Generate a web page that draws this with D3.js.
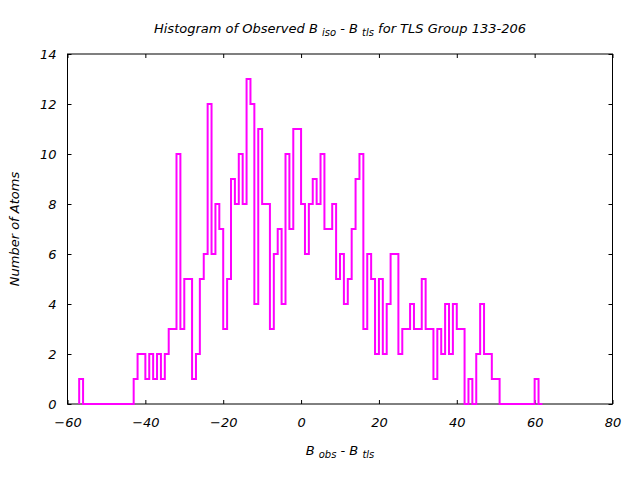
<!DOCTYPE html>
<html>
<head>
<meta charset="utf-8">
<script src="https://cdn.jsdelivr.net/npm/d3@7"></script>
<style>
  body { margin: 0; background: white; }
  text { font-family: "DejaVu Sans", sans-serif; font-style: italic; }
</style>
</head>
<body>
<script>
// bins are 1 unit wide, first bin starts at -57
let firstEdge = -57;
let binWidth = 1;
let counts = [
  1, 0, 0, 0, 0, 0, 0, 0, 0, 0, 0, 0, 0, 0,      // -57 .. -44
  1, 2, 2, 1, 2, 1, 2, 1, 2, 3, 3, 10, 3, 5, 5,  // -43 .. -29
  1, 2, 5, 6, 12, 6, 8, 7, 3, 5, 9, 8, 10, 8,    // -28 .. -15
  13, 12, 4, 11, 8, 8, 3, 6, 7, 4, 10, 7, 11, 11,// -14 .. -1
  8, 6, 8, 9, 8, 10, 7, 7, 8, 5, 6, 4, 5, 7,     // 0 .. 13
  9, 10, 3, 6, 5, 2, 5, 2, 4, 6, 6, 2, 3, 3,     // 14 .. 27
  4, 3, 3, 5, 3, 3, 1, 3, 2, 4, 2, 4, 3, 3,      // 28 .. 41
  0, 1, 0, 2, 4, 2, 2, 1, 1,                     // 42 .. 50
  0, 0, 0, 0, 0, 0, 0, 0, 0, 1, 0                // 51 .. 61
];
let xTicks = [-60, -40, -20, 0, 20, 40, 60, 80];
let yTicks = [0, 2, 4, 6, 8, 10, 12, 14];

let width = 640, height = 480;
let margin = { top: 54, bottom: 76, left: 67.5, right: 27.5 };

let svg = d3.select('body')
  .append('svg')
  .attr('width', width)
  .attr('height', height)
  .style('background', 'white');

let xScale = d3.scaleLinear()
  .domain([-60, 80])
  .range([margin.left, width - margin.right]);

let yScale = d3.scaleLinear()
  .domain([0, 14])
  .range([height - margin.bottom, margin.top]);

// axes, ticks pointing inward, mirrored on top/right
svg.append('g')
  .attr('transform', `translate(0,${height - margin.bottom})`)
  .call(d3.axisBottom(xScale).tickValues(xTicks).tickSize(-4).tickSizeOuter(0).tickPadding(14))
  .call(g => g.select('.domain').remove());

svg.append('g')
  .attr('transform', `translate(0,${margin.top})`)
  .call(d3.axisTop(xScale).tickValues(xTicks).tickSize(-4).tickSizeOuter(0).tickFormat(''))
  .call(g => g.select('.domain').remove());

svg.append('g')
  .attr('transform', `translate(${margin.left},0)`)
  .call(d3.axisLeft(yScale).tickValues(yTicks).tickSize(-4).tickSizeOuter(0).tickPadding(11))
  .call(g => g.select('.domain').remove());

svg.append('g')
  .attr('transform', `translate(${width - margin.right},0)`)
  .call(d3.axisRight(yScale).tickValues(yTicks).tickSize(-4).tickSizeOuter(0).tickFormat(''))
  .call(g => g.select('.domain').remove());

svg.selectAll('.tick text')
  .style('font-family', '"DejaVu Sans", sans-serif')
  .style('font-style', 'italic')
  .style('font-size', '13px')
  .attr('fill', 'black');

// frame
svg.append('rect')
  .attr('x', margin.left)
  .attr('y', margin.top)
  .attr('width', width - margin.left - margin.right)
  .attr('height', height - margin.top - margin.bottom)
  .attr('fill', 'none')
  .attr('stroke', 'black')
  .attr('stroke-width', 1);

// histogram steps
let pts = [[firstEdge, 0]];
counts.forEach((c, i) => pts.push([firstEdge + i * binWidth, c]));
let lastEdge = firstEdge + counts.length * binWidth;
pts.push([lastEdge, counts[counts.length - 1]]);
pts.push([lastEdge, 0]);

let line = d3.line()
  .x(d => xScale(d[0]))
  .y(d => yScale(d[1]))
  .curve(d3.curveStepAfter);

svg.append('path')
  .datum(pts)
  .attr('d', line)
  .attr('fill', 'none')
  .attr('stroke', '#ff00ff')
  .attr('stroke-width', 2);

// title
let title = svg.append('text')
  .attr('x', (margin.left + width - margin.right) / 2)
  .attr('y', 33)
  .attr('text-anchor', 'middle')
  .style('font-size', '13px');
title.append('tspan').text('Histogram of Observed B ');
title.append('tspan').attr('dy', 3).style('font-size', '10px').text('iso');
title.append('tspan').attr('dy', -3).text('  - B ');
title.append('tspan').attr('dy', 3).style('font-size', '10px').text('tls');
title.append('tspan').attr('dy', -3).text('  for TLS Group 133-206');

// x label
let xl = svg.append('text')
  .attr('x', (margin.left + width - margin.right) / 2)
  .attr('y', 455)
  .attr('text-anchor', 'middle')
  .style('font-size', '13px');
xl.append('tspan').text('B ');
xl.append('tspan').attr('dy', 3).style('font-size', '10px').text('obs');
xl.append('tspan').attr('dy', -3).text('  - B ');
xl.append('tspan').attr('dy', 3).style('font-size', '10px').text('tls');

// y label
svg.append('text')
  .attr('transform', `translate(19,${(margin.top + height - margin.bottom) / 2}) rotate(-90)`)
  .attr('text-anchor', 'middle')
  .style('font-size', '13px')
  .text('Number of Atoms');
</script>
</body>
</html>
